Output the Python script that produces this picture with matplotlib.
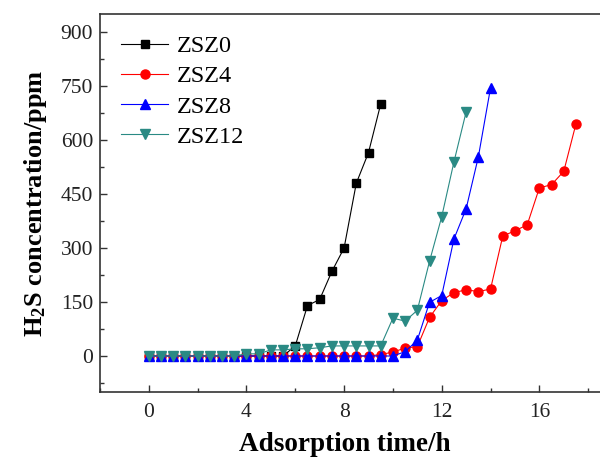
import matplotlib
matplotlib.use("Agg")
import matplotlib.pyplot as plt
from matplotlib.ticker import MultipleLocator

plt.rcParams['font.family'] = ['Liberation Serif', 'DejaVu Serif']
plt.rcParams['mathtext.fontset'] = 'custom'
plt.rcParams['mathtext.rm'] = 'Liberation Serif'
plt.rcParams['mathtext.bf'] = 'Liberation Serif:bold'

t0 = [0, 0.5, 1, 1.5, 2, 2.5, 3, 3.5, 4, 4.5, 5, 5.5, 6, 6.5, 7, 7.5, 8, 8.5, 9, 9.5]
zsz0 = [0, 0, 0, 0, 0, 0, 0, 0, 0, 0, 0, 0, 28, 140, 157, 235, 300, 480, 565, 700]

t4 = [0, 0.5, 1, 1.5, 2, 2.5, 3, 3.5, 4, 4.5, 5, 5.5, 6, 6.5, 7, 7.5, 8, 8.5, 9,
      9.5, 10, 10.5, 11, 11.5, 12, 12.5, 13, 13.5, 14, 14.5, 15, 15.5, 16, 16.5, 17, 17.5]
zsz4 = [0, 0, 0, 0, 0, 0, 0, 0, 0, 0, 0, 0, 0, 0, 0, 0, 0, 0, 0,
        4, 11, 22, 26, 107, 154, 176, 184, 179, 186, 333, 348, 364, 467, 476, 513, 645]

t8 = [0, 0.5, 1, 1.5, 2, 2.5, 3, 3.5, 4, 4.5, 5, 5.5, 6, 6.5, 7, 7.5, 8, 8.5, 9,
      9.5, 10, 10.5, 11, 11.5, 12, 12.5, 13, 13.5, 14]
zsz8 = [0, 0, 0, 0, 0, 0, 0, 0, 0, 0, 0, 0, 0, 0, 0, 0, 0, 0, 0,
        0, 0, 12, 44, 149, 168, 325, 409, 553, 745]

t12 = [0, 0.5, 1, 1.5, 2, 2.5, 3, 3.5, 4, 4.5, 5, 5.5, 6, 6.5, 7, 7.5, 8, 8.5, 9,
       9.5, 10, 10.5, 11, 11.5, 12, 12.5, 13]
zsz12 = [0, 0, 0, 0, 0, 0, 0, 0, 6, 6, 17, 17, 20, 20, 23, 28, 28, 28, 28,
         28, 105, 97, 127, 263, 387, 539, 678]

xticks = [0, 4, 8, 12, 16]
yticks = [0, 150, 300, 450, 600, 750, 900]

fig = plt.figure(figsize=(6.0, 4.59), dpi=100)
ax = fig.add_axes([100/600, 67/459, 537/600, 378/459])

ax.plot(t0, zsz0, '-s', color='black', lw=0.8, ms=6, label='ZSZ0')
ax.plot(t4, zsz4, '-o', color='#ff0000', lw=0.8, ms=6.5, label='ZSZ4')
ax.plot(t8, zsz8, '-^', color='#0000ff', lw=0.8, ms=7, label='ZSZ8')
ax.plot(t12, zsz12, '-v', color='#2a8a84', lw=0.8, ms=7, label='ZSZ12')

ax.set_xlim(-2, 20)
ax.set_ylim(-100, 950)
ax.set_xticks(xticks)
ax.set_yticks(yticks)
ax.xaxis.set_minor_locator(MultipleLocator(2))
ax.yaxis.set_minor_locator(MultipleLocator(75))
ax.tick_params(which='both', direction='in', labelsize=15.5, width=1, color='#333333',
               labelcolor='#222222')
ax.tick_params(which='major', length=5)
ax.tick_params(which='minor', length=3)
ax.tick_params(axis='x', which='major', pad=8)
ax.tick_params(axis='y', which='major', pad=5)
for s in ax.spines.values():
    s.set_linewidth(1.2)
    s.set_color('#333333')

ax.set_xlabel('Adsorption time/h', fontsize=19.5, fontweight='bold')
ax.xaxis.set_label_coords(245/537, -40/378)
ax.set_ylabel(r'$\mathbf{H_2S}$ concentration/ppm', fontsize=19, fontweight='bold', labelpad=8)

ax.legend(loc='upper left', frameon=False, fontsize=17.5, handlelength=1.95,
          labelspacing=0.33, handletextpad=0.35, borderaxespad=0.0,
          bbox_to_anchor=(0.021, 0.969))

fig.savefig('out.png', dpi=100)
